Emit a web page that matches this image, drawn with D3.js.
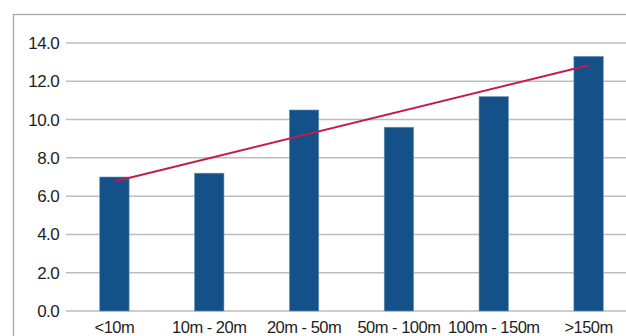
<!DOCTYPE html>
<html>
<head>
<meta charset="utf-8">
<script src="https://cdn.jsdelivr.net/npm/d3@7"></script>
<style>
  html, body { margin: 0; padding: 0; background: #fff; }
  svg { display: block; }
</style>
</head>
<body>
<svg id="chart" width="626" height="336"></svg>
<script>
const categories = ["<10m", "10m - 20m", "20m - 50m", "50m - 100m", "100m - 150m", ">150m"];
const values = [7.0, 7.2, 10.5, 9.6, 11.2, 13.3];
const trendEnds = [6.76, 12.84]; // linear trendline values at first and last category
const yTicks = [0, 2, 4, 6, 8, 10, 12, 14];

const svg = d3.select("#chart");
const FONT = "Liberation Sans, Arial, sans-serif";

// outer frame (clipped by the picture on right and bottom)
svg.append("rect")
  .attr("x", 13.5).attr("y", 14.5)
  .attr("width", 700).attr("height", 400)
  .attr("fill", "none").attr("stroke", "#a8a8a8").attr("stroke-width", 1.3);

const x = d3.scaleBand().domain(categories).range([67, 636]).paddingInner(0.69).paddingOuter(0.345);
const y = d3.scaleLinear().domain([0, 14]).range([311, 43]);

// gridlines
svg.append("g").selectAll("line").data(yTicks).join("line")
  .attr("x1", 66).attr("x2", 700)
  .attr("y1", d => y(d)).attr("y2", d => y(d))
  .attr("stroke", "#bdbdbd").attr("stroke-width", 1.5);

// y axis labels
const yAxis = d3.axisLeft(y).tickValues(yTicks).tickFormat(d3.format(".1f")).tickSize(0).tickPadding(7);
const gy = svg.append("g").attr("transform", "translate(66,0)").call(yAxis);
gy.select(".domain").remove();
gy.selectAll("text").attr("font-size", 17).attr("letter-spacing", "-0.6px")
  .attr("font-family", FONT).attr("fill", "#1e1e1e");

// bars
svg.append("g").selectAll("rect").data(values).join("rect")
  .attr("x", (d, i) => x(categories[i]))
  .attr("width", x.bandwidth())
  .attr("y", d => y(d))
  .attr("height", d => y(0) - y(d))
  .attr("fill", "#135188")
  .attr("stroke", "#6f93b8").attr("stroke-width", 0.6);

// x axis labels
const xAxis = d3.axisBottom(x).tickSize(0).tickPadding(0);
const gx = svg.append("g").attr("transform", "translate(0,311)").call(xAxis);
gx.select(".domain").remove();
gx.selectAll("text").attr("dy", null).attr("y", 22)
  .attr("font-size", 16.5).attr("letter-spacing", "-0.5px")
  .attr("font-family", FONT).attr("fill", "#1e1e1e");

// trendline
const cx = c => x(c) + x.bandwidth() / 2;
svg.append("line")
  .attr("x1", cx(categories[0])).attr("y1", y(trendEnds[0]))
  .attr("x2", cx(categories[categories.length - 1])).attr("y2", y(trendEnds[1]))
  .attr("stroke", "#c41a4e").attr("stroke-width", 2);
</script>
</body>
</html>
